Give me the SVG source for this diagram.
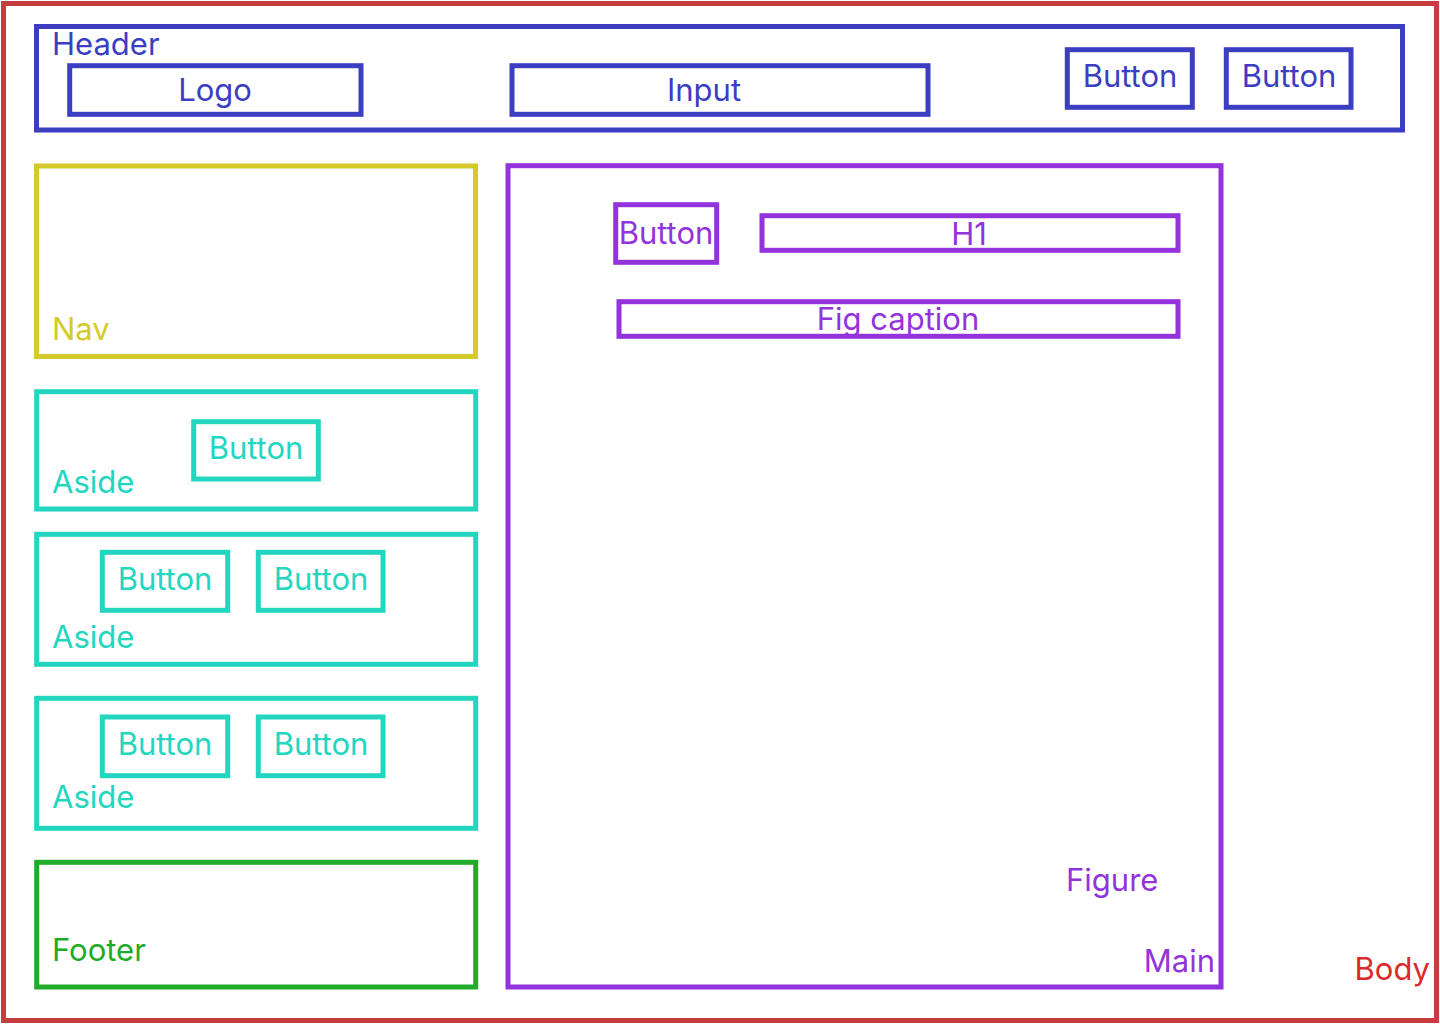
<svg xmlns="http://www.w3.org/2000/svg" width="1440" height="1024" viewBox="0 0 1440 1024">
<style>
rect{fill:none;stroke-width:5}
text{font-family:Inter,"Noto Sans","Liberation Sans",sans-serif;font-size:31px}
.c{text-anchor:middle}
.blue rect{stroke:#3C3EC2}.blue text{fill:#3C3EC2}
.pur rect{stroke:#9333DB}.pur text{fill:#9333DB}
.yel rect{stroke:#D4CB2A}.yel text{fill:#D4CB2A}
.teal rect{stroke:#22D6BF}.teal text{fill:#22D6BF}
.grn rect{stroke:#22AB2A}.grn text{fill:#22AB2A}
</style>
<rect width="1440" height="1024" fill="#fff" stroke="none"/>
<g id="body">
<rect x="3.5" y="3.5" width="1433" height="1017" stroke="#C53B3E" stroke-width="7"/>
<text x="1430" y="980" text-anchor="end" fill="#D92B2B">Body</text>
</g>
<g id="header" class="blue">
<rect x="36.5" y="26.5" width="1366" height="103.5"/>
<text x="52" y="55">Header</text>
</g>
<g id="logo" class="blue">
<rect x="69.7" y="65.7" width="291.3" height="48.6"/>
<text class="c" x="215" y="101">Logo</text>
</g>
<g id="input" class="blue">
<rect x="512" y="65.7" width="416" height="48.6"/>
<text class="c" x="704" y="101">Input</text>
</g>
<g id="header-button-1" class="blue">
<rect x="1067.3" y="49.7" width="125" height="57.6"/>
<text class="c" x="1130" y="87">Button</text>
</g>
<g id="header-button-2" class="blue">
<rect x="1226.3" y="49.7" width="124.7" height="57.6"/>
<text class="c" x="1289" y="87">Button</text>
</g>
<g id="nav" class="yel">
<rect x="36.5" y="166" width="439" height="190.5"/>
<text x="52" y="340">Nav</text>
</g>
<g id="aside-1" class="teal">
<rect x="36.7" y="391.7" width="439" height="117.3"/>
<text x="52" y="493">Aside</text>
</g>
<g id="aside-1-button" class="teal">
<rect x="193.7" y="421.7" width="124.6" height="57.3"/>
<text class="c" x="256" y="459">Button</text>
</g>
<g id="aside-2" class="teal">
<rect x="36.7" y="534.3" width="439" height="130"/>
<text x="52" y="648">Aside</text>
</g>
<g id="aside-2-button-1" class="teal">
<rect x="102.3" y="552.3" width="125.4" height="58"/>
<text class="c" x="165" y="590">Button</text>
</g>
<g id="aside-2-button-2" class="teal">
<rect x="258.3" y="552.3" width="124.7" height="58"/>
<text class="c" x="321" y="590">Button</text>
</g>
<g id="aside-3" class="teal">
<rect x="36.7" y="698.3" width="439" height="130"/>
<text x="52" y="808">Aside</text>
</g>
<g id="aside-3-button-1" class="teal">
<rect x="102.3" y="717" width="125.4" height="58.7"/>
<text class="c" x="165" y="755">Button</text>
</g>
<g id="aside-3-button-2" class="teal">
<rect x="258.3" y="717" width="124.7" height="58.7"/>
<text class="c" x="321" y="755">Button</text>
</g>
<g id="footer" class="grn">
<rect x="36.7" y="862.3" width="439" height="124.7"/>
<text x="52" y="961">Footer</text>
</g>
<g id="main" class="pur">
<rect x="508" y="165.7" width="713" height="821.3"/>
<text x="1215" y="972" text-anchor="end">Main</text>
<text x="1066" y="891">Figure</text>
</g>
<g id="main-button" class="pur">
<rect x="615.7" y="204.7" width="101" height="57.6"/>
<text class="c" x="666" y="244">Button</text>
</g>
<g id="h1" class="pur">
<rect x="762" y="215.7" width="416" height="34.6"/>
<text class="c" x="969" y="245">H1</text>
</g>
<g id="figcaption" class="pur">
<rect x="619" y="301.7" width="559" height="34.6"/>
<text class="c" x="898" y="330">Fig caption</text>
</g>
<g id="connectors"/>
</svg>
